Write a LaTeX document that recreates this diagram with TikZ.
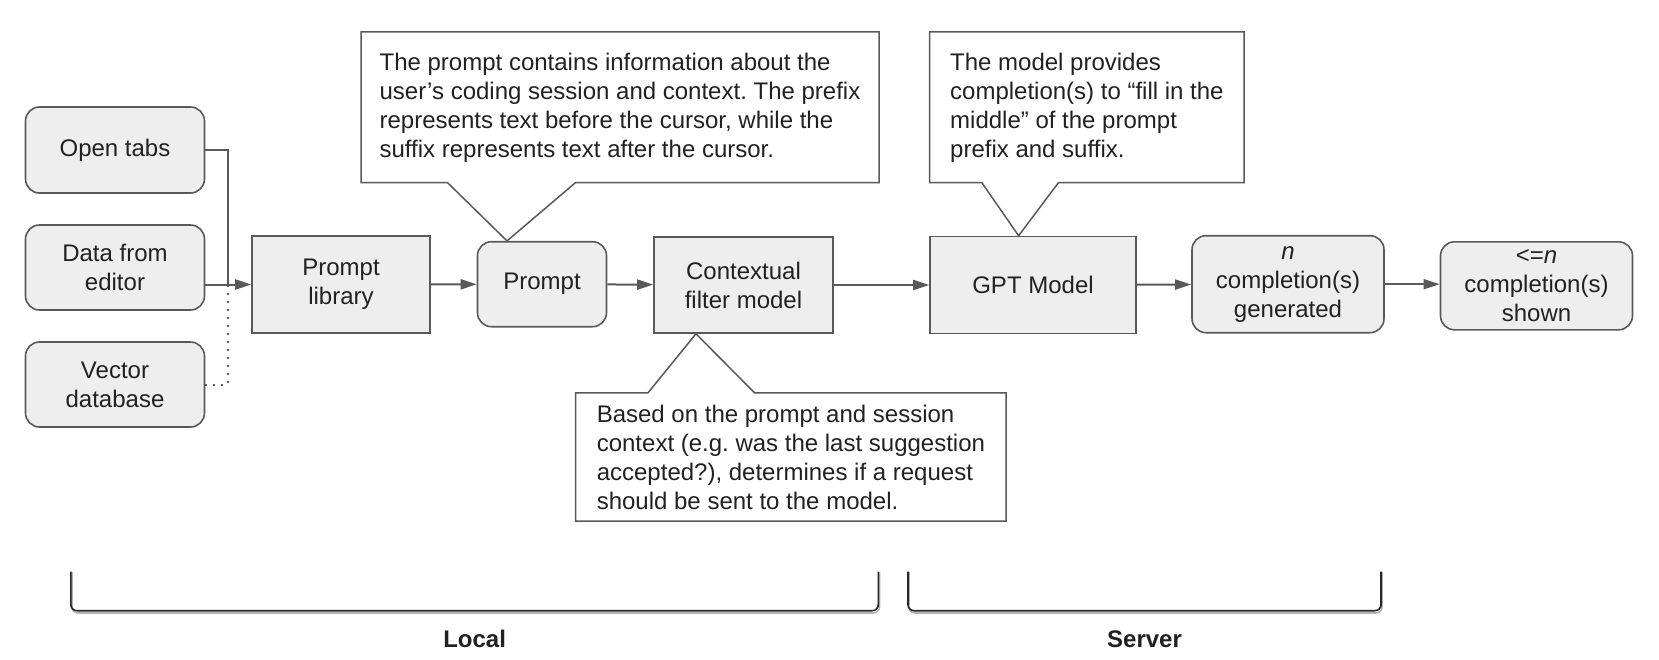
\documentclass[tikz,border=0pt]{standalone}
\usepackage{fontspec}
\setmainfont{Liberation Sans}
\usetikzlibrary{arrows.meta}
\frenchspacing

\definecolor{boxfill}{RGB}{238,238,238}
\definecolor{linegray}{RGB}{89,89,89}
\definecolor{textgray}{RGB}{33,33,33}

\tikzset{
  base/.style={draw=linegray, line width=0.8pt, fill=boxfill, text=textgray,
    align=center, inner sep=0pt, font=\fontsize{12}{14.5}\selectfont},
  rbox/.style={base, rounded corners=7pt},
  sbox/.style={base},
  feed/.style={draw=linegray, line width=1pt},
  flow/.style={feed, -{Triangle[length=8pt,width=5pt]}},
  note/.style={text=textgray, align=left, inner sep=0pt,
    font=\fontsize{12}{14.5}\selectfont},
  noteline/.style={draw=linegray, line width=0.75pt, line join=miter},
  bracket/.style={draw=black!85, line width=0.8pt, rounded corners=3pt},
  bracketshadow/.style={draw=black!30, line width=0.8pt, rounded corners=3pt},
}

\begin{document}
\begin{tikzpicture}[x=0.5pt, y=-0.5pt]
  \useasboundingbox (0,0) rectangle (1659,659);

  % sources on the left
  \node[rbox, minimum width=89.5pt, minimum height=43pt] (tabs) at (115,150) {Open tabs};
  \node[rbox, minimum width=89.5pt, minimum height=42.5pt] (editor) at (115,267.5) {Data from\\editor};
  \node[rbox, minimum width=89.5pt, minimum height=42.5pt] (vecdb) at (115,384.5) {Vector\\database};
  \coordinate (bus) at (227.5,284.5);

  % main pipeline
  \node[sbox, minimum width=89pt, minimum height=48.5pt] (lib) at (341,284.5) {Prompt\\library};
  \node[rbox, minimum width=64.5pt, minimum height=42.5pt] (prompt) at (542,284.2) {Prompt};
  \node[sbox, minimum width=89.5pt, minimum height=48pt] (filter) at (743.5,285) {Contextual\\filter model};
  \node[sbox, minimum width=103pt, minimum height=48.5pt] (gpt) at (1033,285) {GPT Model};
  \node[rbox, minimum width=96pt, minimum height=48.5pt] (gen) at (1288,284.2) {\textit{n}\\completion(s)\\generated};
  \node[rbox, minimum width=96pt, minimum height=44pt] (shown) at (1536.5,285.8) {<=\textit{n}\\completion(s)\\shown};

  \draw[feed] (tabs.east) -| (bus);
  \draw[feed, dash pattern=on 1pt off 3pt] (vecdb.east) -| (bus);
  \draw[flow] (editor.east |- lib.west) -- (lib.west);
  \draw[flow] (lib) -- (prompt);
  \draw[flow] (prompt) -- (filter);
  \draw[flow] (filter) -- (gpt);
  \draw[flow] (gpt) -- (gen);
  \draw[flow] (gen.east) -- (gen.east -| shown.west);

  % callouts
  \node[note, minimum width=258.6pt, minimum height=75pt] (promptnote) at (620,107.3)
    {The prompt contains information about the\\user’s coding session and context. The prefix\\represents text before the cursor, while the\\suffix represents text after the cursor.};
  \draw[noteline] (promptnote.south west) -- (promptnote.north west) -- (promptnote.north east)
    -- (promptnote.south east) -- ([xshift=107.2pt]promptnote.south west)
    -- ([xshift=-17.5pt]prompt.north) -- ([xshift=43.3pt]promptnote.south west) -- cycle;

  \node[note, minimum width=156.9pt, minimum height=75pt] (gptnote) at (1086.9,107.3)
    {The model provides\\completion(s) to “fill in the\\middle” of the prompt\\prefix and suffix.};
  \draw[noteline] (gptnote.south west) -- (gptnote.north west) -- (gptnote.north east)
    -- (gptnote.south east) -- ([xshift=64.4pt]gptnote.south west)
    -- ([xshift=-7.2pt]gpt.north) -- ([xshift=26.15pt]gptnote.south west) -- cycle;

  \node[note, minimum width=214.9pt, minimum height=63.7pt] (filternote) at (790.9,457)
    {Based on the prompt and session\\context (e.g. was the last suggestion\\accepted?), determines if a request\\should be sent to the model.};
  \draw[noteline] (filternote.north west) -- ([xshift=36.15pt]filternote.north west)
    -- ([xshift=-23.75pt]filter.south) -- ([xshift=89.5pt]filternote.north west)
    -- (filternote.north east) -- (filternote.south east) -- (filternote.south west) -- cycle;

  % local / server brackets
  \draw[bracketshadow] (72,572) -- (72,613) -- (879.5,613) -- (879.5,572);
  \draw[bracketshadow] (909,572) -- (909,613) -- (1382,613) -- (1382,572);
  \draw[bracket] (70.9,571.7) -- (70.9,610.7) -- (878.3,610.7) -- (878.3,571.7);
  \draw[bracket] (908,571.7) -- (908,610.7) -- (1381,610.7) -- (1381,571.7);
  \node[note, font=\fontsize{12}{14.5}\selectfont\bfseries] (local) at (474.6,639) {Local};
  \node[note, font=\fontsize{12}{14.5}\selectfont\bfseries] (server) at (1144.5,639) {Server};
\end{tikzpicture}
\end{document}
